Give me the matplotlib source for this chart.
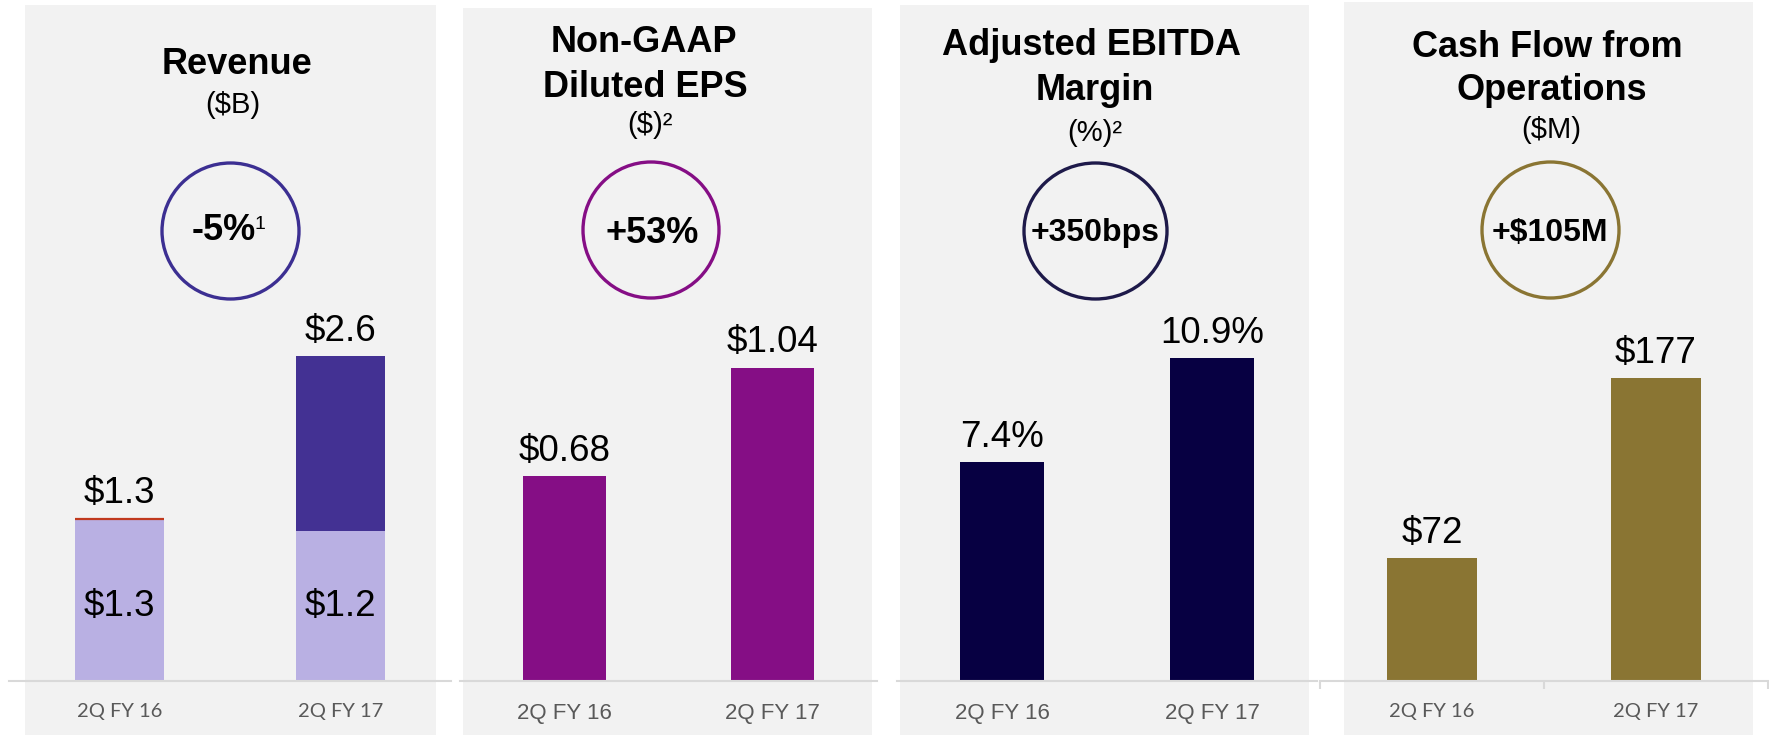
import matplotlib
matplotlib.use("Agg")
import matplotlib.pyplot as plt
from matplotlib.patches import Rectangle, Ellipse

# data
periods = ["2Q FY 16", "2Q FY 17"]
revenue_total = [1.3, 2.6]        # $B
revenue_base = [1.3, 1.2]         # $B, lower (light) part
revenue_added = [t - b for t, b in zip(revenue_total, revenue_base)]
eps = [0.68, 1.04]                # $
ebitda_margin = [7.4, 10.9]       # %
cash_flow = [72, 177]             # $M
changes = ["-5%", "+53%", "+350bps", "+$105M"]

W, H = 1769, 735
plt.rcParams["font.family"] = ["Liberation Sans", "DejaVu Sans"]
fig = plt.figure(figsize=(W / 100, H / 100), dpi=100)
fig.patch.set_facecolor("white")

def fx(x):
    return x / W

def fy(y):
    return 1 - y / H

GRAY_TXT = "#595959"
AXIS_C = "#d9d9d9"

# panel backgrounds (left, top, right)
panels = [(25, 5, 436), (463, 8, 872), (900, 5, 1309), (1344, 2, 1753)]
for l, t, r in panels:
    fig.add_artist(Rectangle((fx(l), 0), (r - l) / W, 1 - t / H, transform=fig.transFigure,
                             facecolor="#f2f2f2", edgecolor="none", zorder=0.5))

# axes: (left px, right px, ymax)
base_y, top_y = 681, 300
axes_spec = [(9, 451, 3.05), (460, 877, 1.264), (897, 1317, 12.87), (1320, 1768, 222.8)]
axes = []
for l, r, ymax in axes_spec:
    ax = fig.add_axes([fx(l), fy(base_y), (r - l) / W, (base_y - top_y) / H])
    ax.set_zorder(2)
    ax.patch.set_visible(False)
    ax.set_xlim(-0.5, 1.5)
    ax.set_ylim(0, ymax)
    for s in ["top", "left", "right"]:
        ax.spines[s].set_visible(False)
    ax.spines["bottom"].set_color(AXIS_C)
    ax.spines["bottom"].set_linewidth(1.5)
    ax.set_yticks([])
    ax.set_xticks([0, 1])
    ax.tick_params(axis="x", length=0, pad=16, labelcolor=GRAY_TXT)
    axes.append(ax)

x = [0, 1]
w = 0.4
calibri_like = dict(family="Lato", size=14.5)
arial_like = dict(family="Liberation Sans", size=16)
val_kw = dict(ha="center", va="baseline", fontsize=26.5, xytext=(0, 11),
              textcoords="offset points", annotation_clip=False)

# Revenue
ax = axes[0]
ax.bar(x, revenue_base, w, color="#b9b0e3", edgecolor="none")
ax.bar(x, revenue_added, w, bottom=revenue_base, color="#433193", edgecolor="none")
ax.plot([x[0] - w / 2, x[0] + w / 2], [revenue_total[0]] * 2, color="#c0391e", lw=1.6,
        solid_capstyle="butt")
for xi, t, b in zip(x, revenue_total, revenue_base):
    ax.annotate(f"${t:.1f}", (xi, t), **val_kw)
    ax.text(xi, 0.6, f"${b:.1f}", ha="center", va="center", fontsize=26.5)
ax.set_xticklabels(periods, **calibri_like)

# EPS
ax = axes[1]
ax.bar(x, eps, w, color="#850e85", edgecolor="none")
for xi, v in zip(x, eps):
    ax.annotate(f"${v:.2f}", (xi, v), **val_kw)
ax.set_xticklabels(periods, **arial_like)

# EBITDA margin
ax = axes[2]
ax.bar(x, ebitda_margin, w, color="#070042", edgecolor="none")
for xi, v in zip(x, ebitda_margin):
    ax.annotate(f"{v:.1f}%", (xi, v), **val_kw)
ax.set_xticklabels(periods, **arial_like)

# Cash flow
ax = axes[3]
ax.bar(x, cash_flow, w, color="#8a7533", edgecolor="none")
for xi, v in zip(x, cash_flow):
    ax.annotate(f"${v:.0f}", (xi, v), **val_kw)
ax.set_xticklabels(periods, **calibri_like)
ax.set_xticks([-0.5, 0.5, 1.5], minor=True)
ax.tick_params(axis="x", which="minor", length=6, width=1.5, color=AXIS_C, direction="out")

# titles: (text, x, baseline y, size, bold)
titles = [
    ("Revenue", 237, 74, 26, True), ("($B)", 233, 113, 21, False),
    ("Non-GAAP", 644, 52, 26, True), ("Diluted EPS", 645, 97, 26, True), ("($)\u00b2", 650, 133, 21, False),
    ("Adjusted EBITDA", 1091, 55, 26, True), ("Margin", 1095, 100, 26, True), ("(%)\u00b2", 1095, 141, 21, False),
    ("Cash Flow from", 1547, 57, 26, True), ("Operations", 1552, 100, 26, True), ("($M)", 1551, 138, 21, False),
]
for txt, tx, ty, sz, bold in titles:
    fig.text(fx(tx), fy(ty), txt, ha="center", va="baseline", fontsize=sz,
             fontweight="bold" if bold else "normal", zorder=3)

# change circles: (center x, center y, width, color, text x, baseline, size)
circles = [
    (230.5, 231, 137, "#3c2f92", 223.5, 240, 26),
    (651, 230, 136, "#850e85", 652, 243, 26),
    (1095.5, 231, 143, "#1e1a4a", 1095, 241, 23),
    (1550.5, 230, 137, "#8a7533", 1550, 241, 23),
]
for (cx, cy, d, col, tx, ty, sz), lab in zip(circles, changes):
    fig.add_artist(Ellipse((fx(cx), fy(cy)), d / W, 136 / H, transform=fig.transFigure,
                           fill=False, edgecolor=col, lw=2.4, zorder=3))
    fig.text(fx(tx), fy(ty), lab, ha="center", va="baseline", fontsize=sz,
             fontweight="bold", zorder=3)
fig.text(fx(255), fy(229), "1", ha="left", va="baseline", fontsize=14, zorder=3)

fig.savefig("out.png", dpi=100)
